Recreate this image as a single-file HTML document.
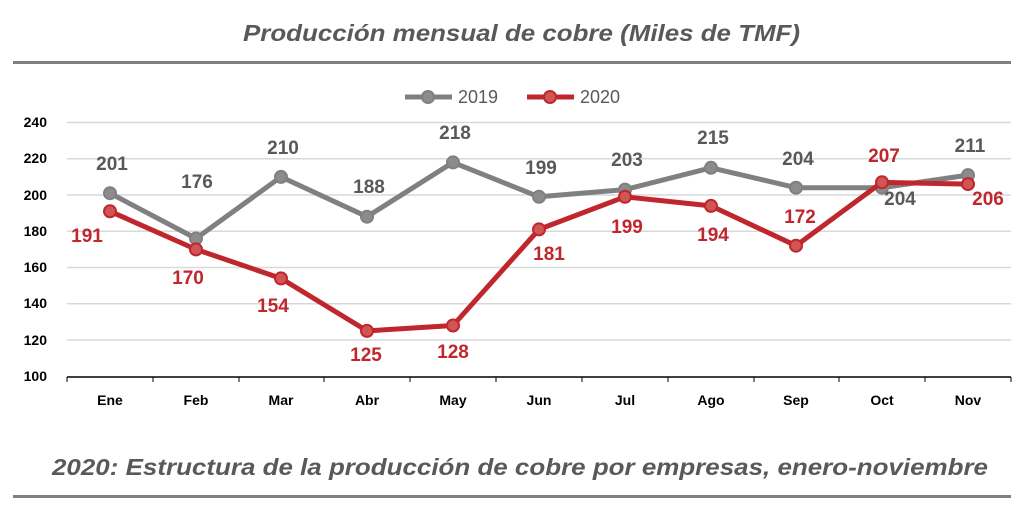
<!DOCTYPE html>
<html><head><meta charset="utf-8"><style>
body{margin:0;background:#fff;}
svg{display:block;font-family:"Liberation Sans",sans-serif;}
</style></head><body>
<svg width="1024" height="527" viewBox="0 0 1024 527">
<text x="243" y="41" textLength="557" lengthAdjust="spacingAndGlyphs" font-size="23" font-weight="bold" font-style="italic" fill="#595959">Producción mensual de cobre (Miles de TMF)</text>
<rect x="13" y="61" width="998" height="3" fill="#7f7f7f"/>
<g stroke="#d9d9d9" stroke-width="1.5">
<line x1="67" x2="1011" y1="122.5" y2="122.5"/><line x1="67" x2="1011" y1="158.7" y2="158.7"/>
<line x1="67" x2="1011" y1="195" y2="195"/><line x1="67" x2="1011" y1="231.2" y2="231.2"/>
<line x1="67" x2="1011" y1="267.5" y2="267.5"/><line x1="67" x2="1011" y1="303.7" y2="303.7"/>
<line x1="67" x2="1011" y1="340" y2="340"/>
</g>
<line x1="67" x2="1011" y1="377" y2="377" stroke="#000" stroke-width="1.5"/>
<g stroke="#000" stroke-width="1">
<line x1="67" x2="67" y1="377" y2="382"/><line x1="153" x2="153" y1="377" y2="382"/><line x1="239" x2="239" y1="377" y2="382"/><line x1="324" x2="324" y1="377" y2="382"/><line x1="410" x2="410" y1="377" y2="382"/><line x1="496" x2="496" y1="377" y2="382"/><line x1="582" x2="582" y1="377" y2="382"/><line x1="668" x2="668" y1="377" y2="382"/><line x1="754" x2="754" y1="377" y2="382"/><line x1="839" x2="839" y1="377" y2="382"/><line x1="925" x2="925" y1="377" y2="382"/><line x1="1011" x2="1011" y1="377" y2="382"/>
</g>
<g font-size="14" font-weight="bold" fill="#000" text-anchor="end">
<text x="47" y="127">240</text><text x="47" y="163">220</text><text x="47" y="200">200</text><text x="47" y="236">180</text><text x="47" y="272">160</text><text x="47" y="308">140</text><text x="47" y="345">120</text><text x="47" y="381">100</text>
</g>
<g font-size="14" font-weight="bold" fill="#000" text-anchor="middle">
<text x="110" y="405">Ene</text><text x="196" y="405">Feb</text><text x="281" y="405">Mar</text><text x="367" y="405">Abr</text><text x="453" y="405">May</text><text x="539" y="405">Jun</text><text x="625" y="405">Jul</text><text x="711" y="405">Ago</text><text x="796" y="405">Sep</text><text x="882" y="405">Oct</text><text x="968" y="405">Nov</text>
</g>
<line x1="405" x2="452" y1="97" y2="97" stroke="#808080" stroke-width="5"/><circle cx="428" cy="97" r="6" fill="#8c8c8c" stroke="#808080" stroke-width="2"/>
<text x="458" y="103" font-size="18" fill="#595959">2019</text>
<line x1="527" x2="574" y1="97" y2="97" stroke="#c0272d" stroke-width="5"/><circle cx="550" cy="97" r="6" fill="#d05555" stroke="#c0272d" stroke-width="2"/>
<text x="580" y="103" font-size="18" fill="#595959">2020</text>
<polyline fill="none" stroke="#808080" stroke-width="5" stroke-linejoin="round" points="110,193.2 196,238.5 281,176.9 367,216.7 453,162.4 539,196.8 625,189.6 711,167.8 796,187.7 882,187.7 968,175.1"/>
<g fill="#8c8c8c" stroke="#808080" stroke-width="2">
<circle cx="110" cy="193.2" r="6"/><circle cx="196" cy="238.5" r="6"/><circle cx="281" cy="176.9" r="6"/><circle cx="367" cy="216.7" r="6"/><circle cx="453" cy="162.4" r="6"/><circle cx="539" cy="196.8" r="6"/><circle cx="625" cy="189.6" r="6"/><circle cx="711" cy="167.8" r="6"/><circle cx="796" cy="187.7" r="6"/><circle cx="882" cy="187.7" r="6"/><circle cx="968" cy="175.1" r="6"/>
</g>
<polyline fill="none" stroke="#c0272d" stroke-width="5" stroke-linejoin="round" points="110,211.3 196,249.4 281,278.4 367,330.9 453,325.5 539,229.4 625,196.8 711,205.9 796,245.7 882,182.3 968,184.1"/>
<g fill="#d05555" stroke="#c0272d" stroke-width="2">
<circle cx="110" cy="211.3" r="6"/><circle cx="196" cy="249.4" r="6"/><circle cx="281" cy="278.4" r="6"/><circle cx="367" cy="330.9" r="6"/><circle cx="453" cy="325.5" r="6"/><circle cx="539" cy="229.4" r="6"/><circle cx="625" cy="196.8" r="6"/><circle cx="711" cy="205.9" r="6"/><circle cx="796" cy="245.7" r="6"/><circle cx="882" cy="182.3" r="6"/><circle cx="968" cy="184.1" r="6"/>
</g>
<g font-size="19" font-weight="bold" fill="#595959" text-anchor="middle">
<text x="112" y="170">201</text><text x="197" y="188">176</text><text x="283" y="154">210</text><text x="369" y="193">188</text><text x="455" y="139">218</text><text x="541" y="174">199</text><text x="627" y="166">203</text><text x="713" y="144">215</text><text x="798" y="165">204</text><text x="900" y="205">204</text><text x="970" y="152">211</text>
</g>
<g font-size="19" font-weight="bold" fill="#c0272d" text-anchor="middle">
<text x="87" y="242">191</text><text x="188" y="284">170</text><text x="273" y="312">154</text><text x="366" y="361">125</text><text x="453" y="358">128</text><text x="549" y="260">181</text><text x="627" y="233">199</text><text x="713" y="241">194</text><text x="800" y="223">172</text><text x="884" y="162">207</text><text x="988" y="205">206</text>
</g>
<text x="52" y="475" textLength="936" lengthAdjust="spacingAndGlyphs" font-size="23" font-weight="bold" font-style="italic" fill="#595959">2020: Estructura de la producción de cobre por empresas, enero-noviembre</text>
<rect x="13" y="495" width="998" height="3" fill="#7f7f7f"/>
</svg>
</body></html>
